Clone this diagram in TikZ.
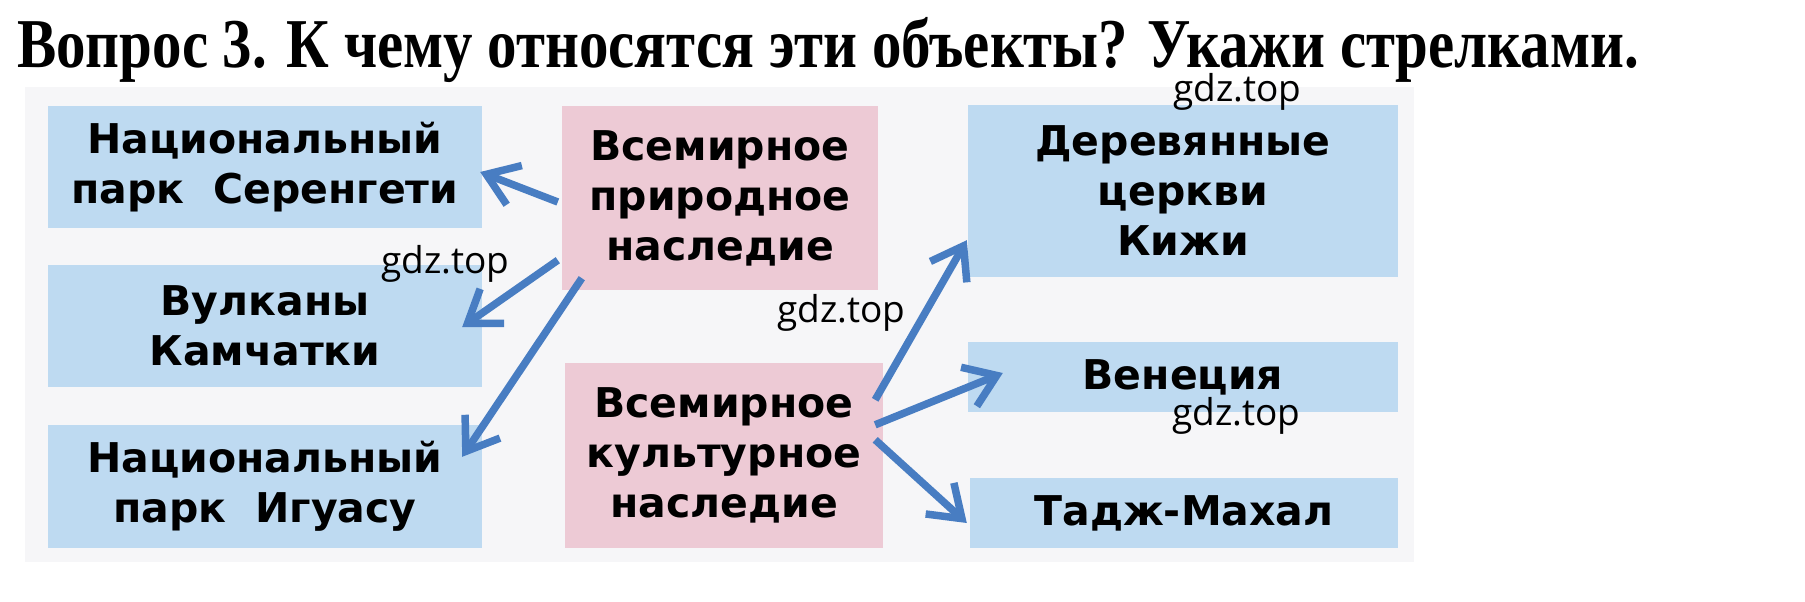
\documentclass[tikz,border=0pt]{standalone}
\usepackage{graphicx}
\usepackage{fontspec}
\usetikzlibrary{arrows.meta,calc}
\newfontfamily\boxfont{DejaVu Sans}
\newfontfamily\wmfont{Open Sans}
\newfontfamily\titlefont{Liberation Serif}
\definecolor{boxblue}{RGB}{190,218,241}
\definecolor{boxpink}{RGB}{237,202,213}
\definecolor{arrowblue}{RGB}{72,125,194}
\definecolor{bggray}{RGB}{246,246,248}
\begin{document}
\begin{tikzpicture}[x=1pt,y=-1pt,
  bluebox/.style={fill=boxblue, draw=none, inner sep=0pt, align=center,
    font=\boxfont\bfseries\fontsize{41}{50}\selectfont},
  pinkbox/.style={bluebox, fill=boxpink},
  wm/.style={anchor=base west, inner sep=0pt, font=\wmfont\fontsize{37}{40}\selectfont},
  conn/.style={draw=arrowblue, line width=7.5pt, -{Straight Barb[length=30pt,width=42pt]}}]
\useasboundingbox (0,0) rectangle (1805,602);
\fill[white] (0,0) rectangle (1805,602);
\fill[bggray] (25,87) rectangle (1414,562);

\node[anchor=base west, inner sep=0pt] (title) at (17,68)
  {\resizebox{1622pt}{\height}{\titlefont\bfseries\fontsize{70}{80}\selectfont Вопрос 3. К чему относятся эти объекты? Укажи стрелками.}};

\node[bluebox, minimum width=434pt, minimum height=122pt] (a) at (265,167) {Национальный\\парк\ \ Серенгети};
\node[bluebox, minimum width=434pt, minimum height=122pt] (b) at (265,326) {Вулканы\\Камчатки};
\node[bluebox, minimum width=434pt, minimum height=123pt] (c) at (265,486.5) {Национальный\\парк\ \ Игуасу};
\node[pinkbox, minimum width=316pt, minimum height=184pt] (p1) at (720,198) {Всемирное\\природное\\наследие};
\node[pinkbox, minimum width=318pt, minimum height=185pt] (p2) at (724,455.5) {Всемирное\\культурное\\наследие};
\node[bluebox, minimum width=430pt, minimum height=172pt] (d) at (1183,191) {Деревянные\\церкви\\Кижи};
\node[bluebox, minimum width=430pt, minimum height=70pt] (e) at (1183,377) {Венеция};
\node[bluebox, minimum width=428pt, minimum height=70pt] (f) at (1184,513) {Тадж-Махал};

\draw[conn] ($(p1.west)+(-4,4)$) -- ($(a.east)+(-2,5)$);
\draw[conn] ($(p1.south west)+(-4,-30)$) -- ($(b.east)+(-20,1)$);
\draw[conn] ($(p1.south west)+(20,-12)$) -- ($(c.north east)+(-20,32)$);
\draw[conn] ($(p2.north east)+(-8,37)$) -- ($(d.south west)+(-1,-37)$);
\draw[conn] ($(p2.north east)+(-8,62)$) -- ($(e.west)+(35,-4)$);
\draw[conn] ($(p2.north east)+(-8,77)$) -- ($(f.west)+(-3,10)$);

\node[wm] (w1) at (1173,101) {gdz.top};
\node[wm] (w2) at (381,273) {gdz.top};
\node[wm] (w3) at (777,322) {gdz.top};
\node[wm] (w4) at (1172,425) {gdz.top};
\end{tikzpicture}
\end{document}
